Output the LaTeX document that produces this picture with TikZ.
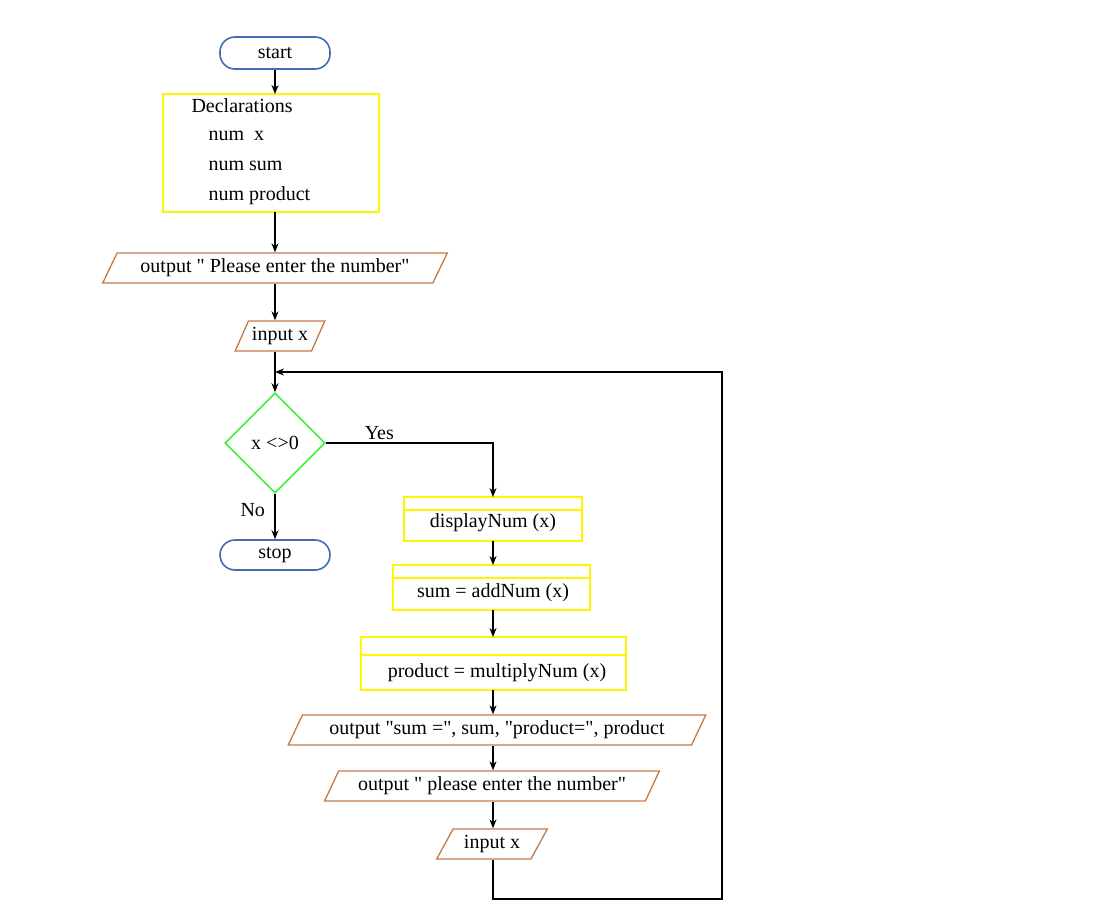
\documentclass[tikz,border=0pt]{standalone}
\usepackage{fontspec}
\setmainfont{Liberation Serif}
\usetikzlibrary{shapes.geometric,arrows.meta}
\definecolor{cblue}{RGB}{68,108,180}
\definecolor{cyel}{RGB}{255,245,0}
\definecolor{corg}{RGB}{196,122,72}
\definecolor{cgrn}{RGB}{60,240,60}
\newcommand{\q}{\textquotedbl}
\begin{document}
\begin{tikzpicture}[x=1pt,y=-1pt,font=\fontsize{20}{24}\selectfont,
  term/.style={draw=cblue,line width=1.6pt,rounded corners=15pt,minimum width=110pt,minimum height=32pt,inner sep=0pt},
  io/.style={draw=corg,line width=1.3pt,trapezium,trapezium left angle=56,trapezium right angle=124,trapezium stretches=true,minimum height=30pt,inner sep=0pt},
  proc/.style={draw=cyel,line width=1.6pt},
  arr/.style={-{Stealth[length=9pt,width=7pt]},line width=1.4pt},
  ln/.style={line width=1.4pt}]
\useasboundingbox (0,0) rectangle (1118,920);
\node[term] (start) at (275,53) {start};
\draw[proc] (163,94) rectangle (379,212);
\coordinate (declT) at (275,94);
\coordinate (declB) at (275,212);
\node[anchor=west] (d1) at (188,106) {Declarations};
\node[anchor=west] (d2) at (205,136) {num\ \ x};
\node[anchor=west] (d3) at (205,166) {num sum};
\node[anchor=west] (d4) at (205,196) {num product};
\node[io,minimum width=345pt] (out1) at (275,268) {output \q\ Please enter the number\q};
\node[io,minimum width=90pt] (in1) at (280,336) {input x};
\coordinate (j) at (275,372);
\node[draw=cgrn,line width=1.6pt,diamond,minimum width=100pt,minimum height=100pt,inner sep=0pt] (dec) at (275,443) {x <>0};
\node[term,minimum height=30pt] (stop) at (275,555) {stop};
\draw[proc] (404,497) rectangle (582,541); \draw[proc] (404,510) -- (582,510);
\node (p1) at (493,523) {displayNum (x)};
\coordinate (p1t) at (493,497); \coordinate (p1b) at (493,541);
\draw[proc] (393,565) rectangle (590,610); \draw[proc] (393,578) -- (590,578);
\node (p2) at (493,593) {sum = addNum (x)};
\coordinate (p2t) at (493,565); \coordinate (p2b) at (493,610);
\draw[proc] (361,637) rectangle (626,690); \draw[proc] (361,655) -- (626,655);
\node (p3) at (497,673) {product = multiplyNum (x)};
\coordinate (p3t) at (493,637); \coordinate (p3b) at (493,690);
\node[io,minimum width=418pt] (out2) at (497,730) {output \q sum =\q, sum, \q product=\q, product};
\node[io,minimum width=335pt] (out3) at (492,786) {output \q\ please enter the number\q};
\node[io,minimum width=111pt] (in2) at (492,844) {input x};
\coordinate (c1) at (493,899); \coordinate (c2) at (722,899); \coordinate (c3) at (722,372);
\coordinate (y1) at (493,443);
\draw[arr] (start.south) -- (declT);
\draw[arr] (declB) -- (out1.north -| declB);
\draw[arr] (out1.south -| declB) -- (in1.north -| declB);
\draw[ln] (in1.south -| declB) -- (j);
\draw[arr] (j) -- (dec.north);
\draw[arr] (dec.south) -- (stop.north) node[pos=0.35,left=6pt] {No};
\draw[arr] (dec.east) -- (y1) node[pos=0.32,above=-1pt] {Yes} -- (p1t);
\draw[arr] (p1b) -- (p2t);
\draw[arr] (p2b) -- (p3t);
\draw[arr] (p3b) -- (out2.north -| p3b);
\draw[arr] (out2.south -| p3b) -- (out3.north -| p3b);
\draw[arr] (out3.south -| p3b) -- (in2.north -| p3b);
\draw[arr] (in2.south -| p3b) -- (c1) -- (c2) -- (c3) -- (j);
\end{tikzpicture}
\end{document}
